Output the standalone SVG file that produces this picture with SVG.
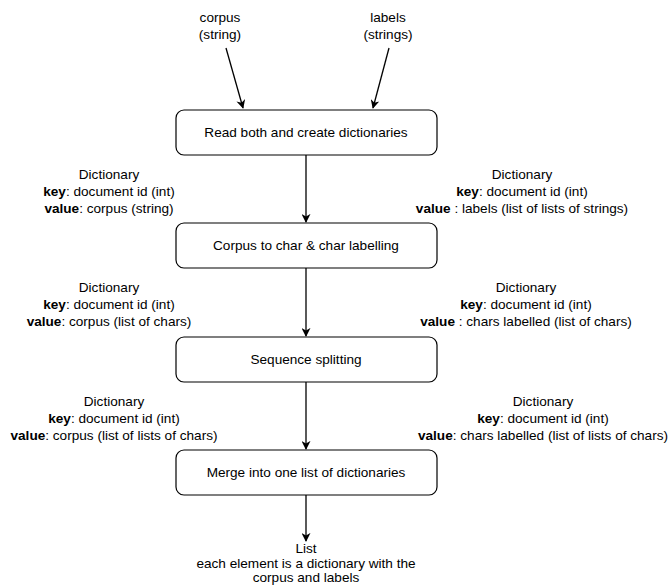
<svg xmlns="http://www.w3.org/2000/svg" width="670" height="585" viewBox="0 0 670 585">
<style>
text{font-family:"Liberation Sans",Arial,sans-serif;font-size:13.6px;fill:#000;text-anchor:middle}
.b{font-weight:bold}
.box{fill:#fff;stroke:#000;stroke-width:1.2}
.c{stroke:#000;stroke-width:1.3;fill:none;marker-end:url(#ah)}
</style>
<defs>
<marker id="ah" viewBox="0 0 10 10" refX="9" refY="5" markerWidth="9" markerHeight="9" markerUnits="userSpaceOnUse" orient="auto">
<path d="M0,0 L10,5 L0,10 L3,5 z" fill="#000"/>
</marker>
</defs>
<rect width="670" height="585" fill="#fff"/>
<g id="connectors">
<line class="c" x1="226" y1="48" x2="243" y2="108"/>
<line class="c" x1="389" y1="48" x2="373" y2="108"/>
<line class="c" x1="306" y1="155" x2="306" y2="222"/>
<line class="c" x1="306" y1="268" x2="306" y2="336"/>
<line class="c" x1="306" y1="382" x2="306" y2="449"/>
<line class="c" x1="306" y1="495" x2="306" y2="541"/>
</g>
<g id="corpus"><text x="220" y="22">corpus</text><text x="220" y="39">(string)</text></g>
<g id="labels"><text x="388" y="22">labels</text><text x="388" y="39">(strings)</text></g>
<g id="read"><rect class="box" x="176" y="110" width="261" height="45" rx="8"/><text x="306" y="137">Read both and create dictionaries</text></g>
<g id="dict1l"><text x="109" y="179">Dictionary</text><text x="109" y="196"><tspan class="b">key</tspan>: document id (int)</text><text x="109" y="213"><tspan class="b">value</tspan>: corpus (string)</text></g>
<g id="dict1r"><text x="522" y="179">Dictionary</text><text x="522" y="196"><tspan class="b">key</tspan>: document id (int)</text><text x="522" y="213"><tspan class="b">value</tspan> : labels (list of lists of strings)</text></g>
<g id="corpus2char"><rect class="box" x="176" y="223" width="261" height="45" rx="8"/><text x="306" y="250">Corpus to char &amp; char labelling</text></g>
<g id="dict2l"><text x="109" y="292">Dictionary</text><text x="109" y="309"><tspan class="b">key</tspan>: document id (int)</text><text x="109" y="326"><tspan class="b">value</tspan>: corpus (list of chars)</text></g>
<g id="dict2r"><text x="526" y="292">Dictionary</text><text x="526" y="309"><tspan class="b">key</tspan>: document id (int)</text><text x="526" y="326"><tspan class="b">value</tspan> : chars labelled (list of chars)</text></g>
<g id="split"><rect class="box" x="176" y="337" width="261" height="45" rx="8"/><text x="306" y="364">Sequence splitting</text></g>
<g id="dict3l"><text x="114" y="406">Dictionary</text><text x="114" y="423"><tspan class="b">key</tspan>: document id (int)</text><text x="114" y="440"><tspan class="b">value</tspan>: corpus (list of lists of chars)</text></g>
<g id="dict3r"><text x="543" y="406">Dictionary</text><text x="543" y="423"><tspan class="b">key</tspan>: document id (int)</text><text x="543" y="440"><tspan class="b">value</tspan>: chars labelled (list of lists of chars)</text></g>
<g id="merge"><rect class="box" x="176" y="450" width="261" height="45" rx="8"/><text x="306" y="477">Merge into one list of dictionaries</text></g>
<g id="list"><text x="306" y="553">List</text><text x="306" y="568">each element is a dictionary with the</text><text x="306" y="582">corpus and labels</text></g>
</svg>
